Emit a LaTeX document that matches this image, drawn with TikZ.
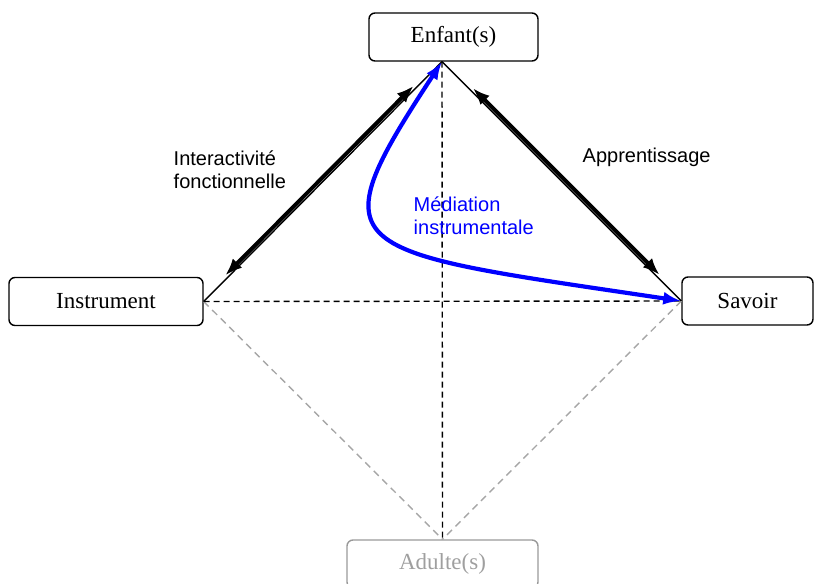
\documentclass[tikz,border=0pt]{standalone}
\usepackage{fontspec}
\setmainfont{Liberation Serif}
\newfontfamily\labelfont{Liberation Sans}
\usepackage{tikz}
\usetikzlibrary{arrows.meta, calc}
\tikzset{every picture/.style={line width=1.4pt}}

\begin{document}
\begin{tikzpicture}[x=1pt, y=-1pt,
        pole/.style={draw, rounded corners=6pt, minimum height=48pt, inner sep=0pt,
            font=\fontsize{23}{26}\selectfont},
        note/.style={inner sep=0pt, align=left, font=\labelfont\fontsize{20}{23}\selectfont},
        link/.style={{Latex[length=17pt,width=13pt]}-{Latex[length=17pt,width=13pt]}, line width=4pt},
        mediation/.style={{Latex[length=18pt,width=13pt]}-{Latex[length=18pt,width=13pt]}, line width=4.2pt, blue},
        hidden/.style={dashed, dash pattern=on 7pt off 5pt, gray!70}]
        \useasboundingbox (0,0) rectangle (815,584);

        \node[pole, minimum width=169pt] (enf) at (453.5,37) {Enfant(s)};
        \node[pole, minimum width=194pt] (ins) at (106,301.5) {Instrument};
        \node[pole, minimum width=131pt] (sav) at (747.5,301) {Savoir};
        \node[pole, minimum width=191pt, draw=gray!80, text=gray!75] (adu) at (442.5,564) {Adulte(s)};
        \coordinate (apex) at ($(enf.south)+(-11.5,0)$);

        \draw
            (ins.east) edge[hidden] (adu.north)
            (sav.west) edge[hidden] (adu.north)
            (ins.east) edge[dashed, dash pattern=on 6pt off 4pt] (sav.west)
            (apex) edge[dashed, dash pattern=on 6pt off 4pt] (adu.north)
            (apex) edge (ins.east)
            (apex) edge (sav.west)
            ;

        \draw[link] ($(apex)!0.11!(ins.east)+(-2.2,-2.2)$) -- ($(apex)!0.90!(ins.east)+(-2.2,-2.2)$);
        \draw[link] ($(apex)!0.12!(sav.west)+(2.2,-2.2)$) -- ($(apex)!0.90!(sav.west)+(2.2,-2.2)$);
        \draw[mediation] (sav.west) .. controls (340,250) and (315,255) .. (apex);

        \node[note, anchor=north west] (interact) at (173,150) {Interactivité\\fonctionnelle};
        \node[note, anchor=base west] (appr) at (582,162) {Apprentissage};
        \node[note, anchor=north west, text=blue] (medi) at (413,196) {Médiation\\instrumentale};
\end{tikzpicture}
\end{document}
